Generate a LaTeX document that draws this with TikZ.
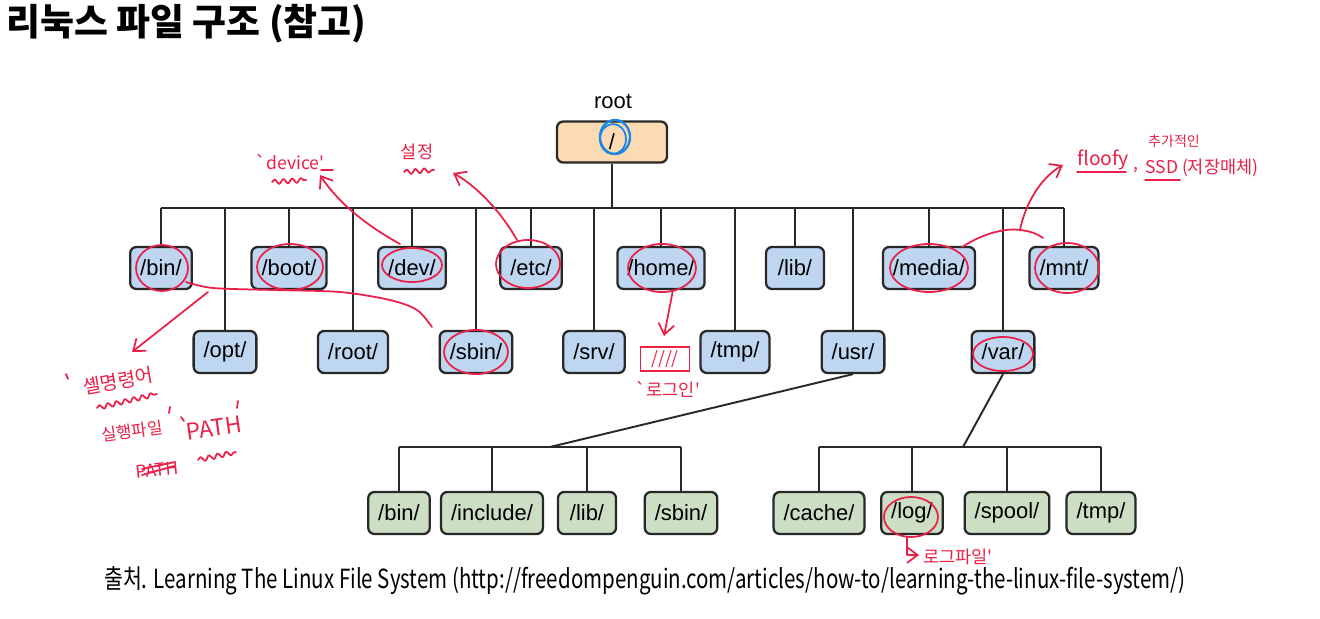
\documentclass[tikz,border=0pt]{standalone}
\usepackage{fontspec}
\setmainfont{Liberation Sans}
\newfontfamily\krfont{Noto Sans CJK KR}
\usetikzlibrary{arrows.meta,decorations.pathmorphing}

\definecolor{dirblue}{RGB}{190,214,240}
\definecolor{dirgreen}{RGB}{204,222,195}
\definecolor{rootpeach}{RGB}{252,218,180}
\definecolor{boxline}{RGB}{40,40,40}
\definecolor{penred}{RGB}{234,32,72}
\definecolor{penblue}{RGB}{25,135,230}

\tikzset{
  dirbox/.style={draw=boxline,line width=1.3pt,rounded corners=3.5pt,fill=dirblue,
    minimum height=0.84cm,minimum width=1.16cm,inner xsep=0.2cm,
    font=\fontsize{12.5}{14}\selectfont},
  subbox/.style={dirbox,fill=dirgreen},
  rootbox/.style={dirbox,fill=rootpeach,minimum width=2.2cm,minimum height=0.82cm},
  tree/.style={draw=boxline,line width=1.1pt},
  pen/.style={draw=penred,line width=1pt,line cap=round,line join=round},
  penarrow/.style={pen,-{Straight Barb[length=6pt,width=9pt]}},
  squiggle/.style={pen,decorate,decoration={snake,amplitude=1.3pt,segment length=5pt}},
  scribble/.style={text=penred,font=\krfont\fontsize{10}{11}\selectfont,inner sep=1pt},
}

\begin{document}
\begin{tikzpicture}[x=0.02cm,y=-0.02cm]
  \useasboundingbox (0,0) rectangle (1320,619);

  % title
  \node[anchor=west,font=\krfont\bfseries\fontsize{21}{24}\selectfont] (title) at (0,24) {리눅스 파일 구조 (참고)};

  % root
  \node[font=\fontsize{12.5}{14}\selectfont] (rootlbl) at (613,102) {root};
  \node[rootbox] (root) at (612,142) {/};
  \coordinate (bus) at (612,208);

  % first level, upper row
  \node[dirbox] (bin) at (161,268) {/bin/};
  \node[dirbox] (boot) at (289,268) {/boot/};
  \node[dirbox] (dev) at (412,268) {/dev/};
  \node[dirbox] (etc) at (531,268) {/etc/};
  \node[dirbox] (home) at (661,268) {/home/};
  \node[dirbox] (lib) at (795,268) {/lib/};
  \node[dirbox] (media) at (929,268) {/media/};
  \node[dirbox] (mnt) at (1064,268) {/mnt/};

  % first level, lower row
  \node[dirbox] (opt) at (225,352) {/opt/};
  \node[dirbox] (rootdir) at (353,352) {/root/};
  \node[dirbox] (sbin) at (476,352) {/sbin/};
  \node[dirbox] (srv) at (594,352) {/srv/};
  \node[dirbox] (tmp) at (735,352) {/tmp/};
  \node[dirbox] (usr) at (853,352) {/usr/};
  \node[dirbox] (var) at (1003,352) {/var/};

  \draw[tree] (root.south) -- (bus);
  \draw[tree] (bin.north |- bus) -- (mnt.north |- bus);
  \foreach \d in {bin,boot,dev,etc,home,lib,media,mnt,opt,rootdir,sbin,srv,tmp,usr,var}
    \draw[tree] (\d.north) -- (\d.north |- bus);

  % /usr/ children
  \coordinate (ubus) at (550,447);
  \node[subbox] (ubin) at (399,513) {/bin/};
  \node[subbox] (uinclude) at (492,513) {/include/};
  \node[subbox] (ulib) at (587,513) {/lib/};
  \node[subbox] (usbin) at (681,513) {/sbin/};
  \draw[tree] (usr.south) -- (ubus);
  \draw[tree] (ubin.north |- ubus) -- (usbin.north |- ubus);
  \foreach \d in {ubin,uinclude,ulib,usbin}
    \draw[tree] (\d.north) -- (\d.north |- ubus);

  % /var/ children
  \coordinate (vbus) at (963,447);
  \node[subbox] (vcache) at (819,513) {/cache/};
  \node[subbox] (vlog) at (912,513) {/log/};
  \node[subbox] (vspool) at (1007,513) {/spool/};
  \node[subbox] (vtmp) at (1101,513) {/tmp/};
  \draw[tree] (var.south) -- (vbus);
  \draw[tree] (vcache.north |- vbus) -- (vtmp.north |- vbus);
  \foreach \d in {vcache,vlog,vspool,vtmp}
    \draw[tree] (\d.north) -- (\d.north |- vbus);

  % source line
  \node[anchor=west] (src) at (98,581) {\scalebox{0.778}[1]{\krfont\fontsize{15}{16}\selectfont 출처. Learning The Linux File System (http://freedompenguin.com/articles/how-to/learning-the-linux-file-system/)}};

  % pen marks: rings
  \draw[draw=penblue,line width=1.3pt] (615,137) ellipse[x radius=15,y radius=17];
  \draw[draw=penblue,line width=1pt] (613,139) ellipse[x radius=13,y radius=15];
  \foreach \x/\y/\rx/\ry in {162/268/26/23,290/267/33/23,412/265/30/17,528/264/32/24,
      662/268/34/24,929/268/39/24,1067/268/32/25,476/352/32/22,1003/354/30/17,911/517/27/20}
    \draw[pen] (\x,\y) ellipse[x radius=\rx,y radius=\ry];

  % pen marks: /dev/ and /etc/
  \coordinate (devtip) at (320,175);
  \draw[penarrow] (400,244) .. controls (360,222) and (335,198) .. (devtip);
  \node[scribble] (devtxt) at (290,162) {`device'};
  \draw[squiggle] (272,182) -- (306,180);
  \draw[pen] (321,170) -- (333,170);
  \coordinate (etctip) at (453,173);
  \draw[penarrow] (517,240) .. controls (500,210) and (475,185) .. (etctip);
  \node[scribble] (settxt) at (417,152) {설정};
  \draw[squiggle] (404,172) -- (434,170);

  % pen marks: /bin/ and /sbin/
  \draw[pen] plot[smooth] coordinates {(186,282) (213,288) (273,290) (340,292) (390,300) (417,310) (432,327)};
  \coordinate (bintip) at (132,352);
  \draw[penarrow] (208,292) -- (bintip);
  \draw[pen] (66,374) -- (68,379);
  \node[scribble,inner sep=0pt,rotate=10,font=\krfont\fontsize{11}{12}\selectfont] (shelltxt) at (118,381) {셸명령어};
  \draw[squiggle] (97,408) -- (157,394);
  \node[scribble,inner sep=0pt,rotate=8,font=\krfont\fontsize{9.5}{10}\selectfont] (exetxt) at (132,431) {실행파일};
  \draw[pen] (170,407) -- (169,413);
  \draw[pen] (181,417) -- (184,421);
  \node[scribble,inner sep=0pt,rotate=8,font=\krfont\fontsize{13}{14}\selectfont] (pathtxt) at (214,428) {PATH};
  \draw[pen] (238,401) -- (237,408);
  \draw[squiggle] (198,460) -- (236,452);
  \node[scribble,inner sep=0pt,rotate=6] (oldpath) at (157,470) {PATH};
  \draw[pen] (142,475) -- (174,466);
  \draw[pen] (142,469) -- (175,462);

  % pen marks: /home/
  \coordinate (hometip) at (664,336);
  \draw[penarrow] (673,290) -- (hometip);
  \node[draw=penred,line width=1pt,scribble,minimum width=0.98cm,minimum height=0.48cm] (loginbox) at (665,359) {////};
  \node[scribble] (logintxt) at (668,389) {`로그인'};

  % pen marks: /media/ and /mnt/
  \draw[pen] (962,247) .. controls (985,232) and (1008,228) .. (1020,230) .. controls (1030,231) and (1038,234) .. (1043,238);
  \coordinate (mnttip) at (1063,165);
  \draw[penarrow] (1020,230) .. controls (1025,205) and (1040,178) .. (mnttip);
  \node[scribble,anchor=west,inner sep=0pt,font=\krfont\fontsize{11}{12}\selectfont] (floofy) at (1077,160) {floofy};
  \draw[pen] (1077,172) -- (1126,172);
  \node[scribble,inner sep=0pt] (comma) at (1136,170) {,};
  \node[scribble,anchor=west,inner sep=0pt] (ssd) at (1145,168) {SSD (저장매체)};
  \draw[pen] (1145,180) -- (1180,180);
  \node[scribble,font=\krfont\fontsize{8}{9}\selectfont] (extra) at (1174,141) {추가적인};

  % pen marks: /log/
  \draw[penarrow] (907,537) -- (907,555) -- (919,555);
  \node[scribble,anchor=west] (logtxt) at (921,557) {로그파일'};
\end{tikzpicture}
\end{document}
